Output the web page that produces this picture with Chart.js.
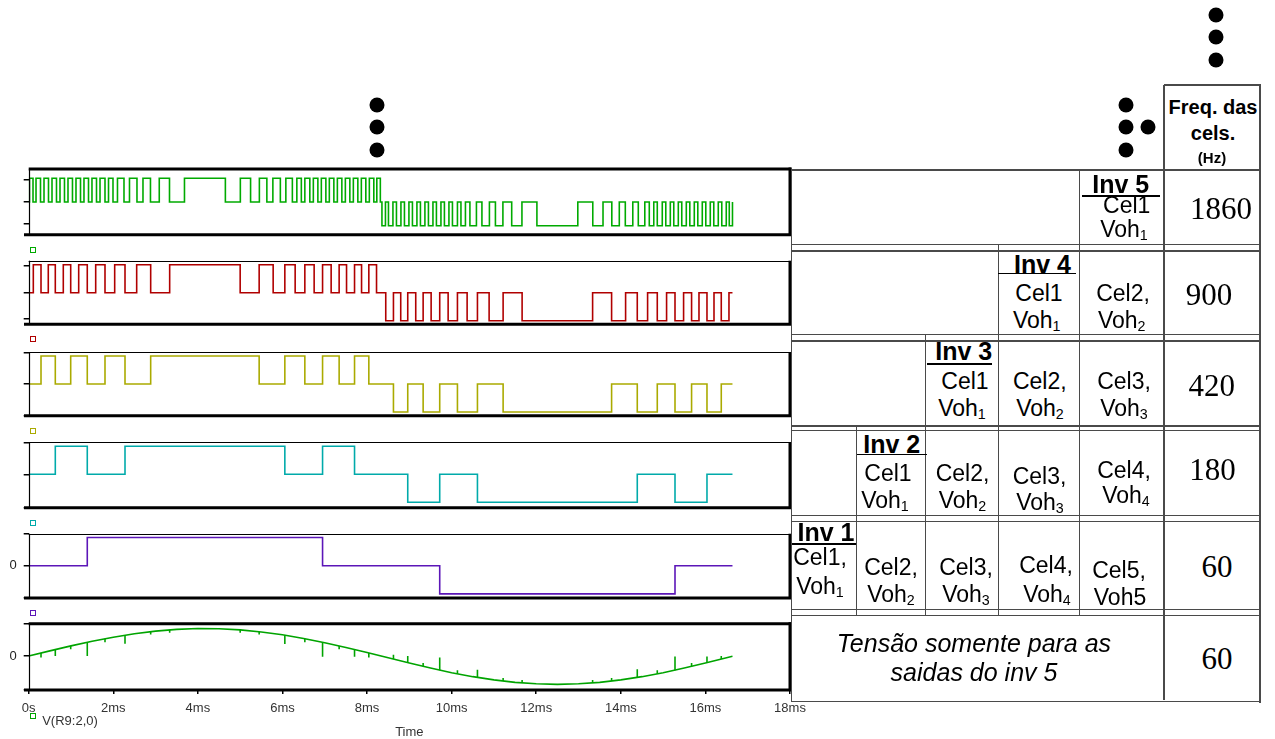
<!DOCTYPE html>
<html><head><meta charset="utf-8">
<script src="https://cdn.jsdelivr.net/npm/chart.js@4.4.1/dist/chart.umd.min.js"></script>
<style>
html,body{margin:0;padding:0;background:#fff;overflow:hidden;}
#root{position:relative;width:1275px;height:739px;font-family:"Liberation Sans",Arial,sans-serif;color:#000;}
canvas.pn{position:absolute;left:0;}
.t{position:absolute;white-space:nowrap;transform:translate(-50%,-50%);line-height:1;}
.ln{position:absolute;background:#4a4a4a;}
.ul{position:absolute;background:#000;}
.dot{position:absolute;width:15px;height:15px;border-radius:50%;background:#000;transform:translate(-50%,-50%);}
.mk{position:absolute;width:4px;height:4px;border:1.5px solid;background:#fff;}
sub{font-size:0.62em;vertical-align:-0.28em;line-height:0;}
</style></head><body><div id="root"></div>
<script>
// ---------------- DATA (time in ms) ----------------
const timeTicks  = [0,2,4,6,8,10,12,14,16,18];
const timeLabels = ['0s','2ms','4ms','6ms','8ms','10ms','12ms','14ms','16ms','18ms'];
const traceEnd = 16.64;

// Inv 5 (1860 Hz) : pulses [on, off]
const inv5Pos = [[0.019,0.102],[0.173,0.279],[0.362,0.468],[0.551,0.657],[0.740,0.846],[0.929,1.035],[1.118,1.225],[1.307,1.414],[1.496,1.603],[1.686,1.804],[1.887,1.993],[2.099,2.253],[2.383,2.560],[2.702,2.879],[3.087,3.329],[3.683,4.650],[5.004,5.246],[5.454,5.631],[5.773,5.950],[6.080,6.234],[6.340,6.446],[6.529,6.647],[6.730,6.837],[6.919,7.026],[7.108,7.215],[7.298,7.404],[7.487,7.593],[7.676,7.782],[7.865,7.971],[8.054,8.160],[8.231,8.314]];
const inv5Neg = [[8.352,8.435],[8.506,8.612],[8.695,8.801],[8.884,8.990],[9.073,9.179],[9.262,9.368],[9.451,9.558],[9.640,9.747],[9.829,9.936],[10.019,10.137],[10.220,10.326],[10.432,10.586],[10.716,10.893],[11.035,11.212],[11.420,11.662],[12.016,12.983],[13.337,13.579],[13.787,13.964],[14.106,14.283],[14.413,14.567],[14.673,14.779],[14.862,14.980],[15.063,15.170],[15.252,15.359],[15.441,15.548],[15.631,15.737],[15.820,15.926],[16.009,16.115],[16.198,16.304],[16.387,16.493],[16.564,16.640]];

// Inv 4 (900 Hz)
const inv4Pos = [[0.109,0.291],[0.463,0.629],[0.818,0.993],[1.182,1.385],[1.584,1.804],[2.033,2.277],[2.553,2.884],[3.333,5.000],[5.449,5.780],[6.056,6.300],[6.529,6.749],[6.948,7.151],[7.340,7.515],[7.704,7.870],[8.042,8.224]];
const inv4Neg = [[8.442,8.624],[8.796,8.962],[9.151,9.326],[9.515,9.718],[9.917,10.137],[10.366,10.610],[10.886,11.217],[11.666,13.333],[13.782,14.113],[14.389,14.633],[14.862,15.082],[15.281,15.484],[15.673,15.848],[16.037,16.203],[16.375,16.557]];

// Inv 3 (420 Hz)
const inv3Pos = [[0.291,0.629],[0.993,1.385],[1.804,2.277],[2.884,5.449],[6.056,6.529],[6.948,7.340],[7.704,8.042]];
const inv3Neg = [[8.624,8.962],[9.326,9.718],[10.137,10.610],[11.217,13.782],[14.389,14.862],[15.281,15.673],[16.037,16.375]];

// Inv 2 (180 Hz)
const inv2Pos = [[0.629,1.385],[2.277,6.056],[6.948,7.704]];
const inv2Neg = [[8.962,9.718],[10.610,14.389],[15.281,16.037]];

// Inv 1 (60 Hz)
const inv1Pos = [[1.385,6.948]];
const inv1Neg = [[9.718,15.281]];

// V(R9:2,0) output (normalised)
const sineT = [0,0.5,1,1.5,2,2.5,3,3.5,4,4.5,5,5.5,6,6.5,7,7.5,8,8.5,9,9.5,10,10.5,11,11.5,12,12.5,13,13.5,14,14.5,15,15.5,16,16.5,16.64];
const sineV = [0,0.187,0.368,0.536,0.685,0.809,0.905,0.969,0.998,0.992,0.951,0.876,0.771,0.637,0.482,0.309,0.125,-0.065,-0.256,-0.439,-0.606,-0.751,-0.869,-0.958,-1.011,-1.030,-1.011,-0.958,-0.869,-0.751,-0.606,-0.439,-0.256,-0.065,-0.01];
// switching spikes [t, from, to]
const sineSpikes = [[0.291,0.109,-0.05],[0.629,0.235,0.0],[0.993,0.364,0.25],[1.385,0.50,0.0],[1.804,0.628,0.5],[2.277,0.757,0.45],[2.884,0.885,0.78],[3.333,0.951,0.85],[5.000,0.951,0.85],[5.449,0.885,0.78],[6.056,0.757,0.44],[6.529,0.628,0.5],[6.948,0.50,-0.03],[7.340,0.364,0.25],[7.704,0.235,-0.03],[8.042,0.109,-0.05],
 [8.624,-0.112,0.05],[8.962,-0.242,0.0],[9.326,-0.375,-0.25],[9.718,-0.515,-0.05],[10.137,-0.647,-0.52],[10.610,-0.780,-0.50],[11.217,-0.912,-0.80],[11.666,-0.980,-0.87],[13.333,-0.980,-0.87],[13.782,-0.912,-0.80],[14.389,-0.780,-0.48],[14.862,-0.647,-0.52],[15.281,-0.515,-0.02],[15.673,-0.375,-0.25],[16.037,-0.242,-0.02],[16.375,-0.112,0.0]];

// ---------------- LAYOUT ----------------
const root = document.getElementById('root');
const FONT = '"Liberation Sans", Arial, sans-serif';
const X0 = 28.7, X1 = 790;

const panels = [
 {pos:inv5Pos, neg:inv5Neg, color:'#00aa00', top:169,   bottom:234.7, ymin:-1.38,  ymax:1.392, ticks:[-0.9,0,0.94],    zero:false, topW:3},
 {pos:inv4Pos, neg:inv4Neg, color:'#b00000', top:260.7, bottom:324.3, ymin:-1.129, ymax:1.143, ticks:[-0.93,0,0.95],   zero:false, topW:1},
 {pos:inv3Pos, neg:inv3Neg, color:'#aaaa00', top:352.3, bottom:415.7, ymin:-1.132, ymax:1.132, ticks:[-1.132,0,1.132], zero:false, topW:1},
 {pos:inv2Pos, neg:inv2Neg, color:'#00aaaa', top:442.3, bottom:507.7, ymin:-1.193, ymax:1.143, ticks:[-1.193,0,1.143], zero:false, topW:1},
 {pos:inv1Pos, neg:inv1Neg, color:'#5c16b8', top:533.7, bottom:598,   ymin:-1.145, ymax:1.135, ticks:[-1.145,0,1.135], zero:true,  topW:1},
 {sine:true,                color:'#00a400', top:623.7, bottom:690,   ymin:-1.236, ymax:1.175, ticks:[-1.236,0,1.175], zero:true,  topW:3, xAxis:true}
];

function pulseSeries(pos, neg){
  const pts = [{x:0,y:0}];
  pos.forEach(([a,b])=>{ pts.push({x:a,y:0},{x:a,y:1},{x:b,y:1},{x:b,y:0}); });
  neg.forEach(([a,b])=>{ pts.push({x:a,y:0},{x:a,y:-1},{x:b,y:-1},{x:b,y:0}); });
  pts.push({x:traceEnd,y:pts[pts.length-1].y});
  return pts;
}

const framePlugin = {
  id:'frame',
  afterDraw(chart, args, o){
    const {ctx} = chart; const {left,right,top,bottom} = chart.chartArea;
    ctx.save(); ctx.strokeStyle = '#000'; ctx.lineCap='butt';
    const ln=(x1,y1,x2,y2,w)=>{ctx.lineWidth=w;ctx.beginPath();ctx.moveTo(x1,y1);ctx.lineTo(x2,y2);ctx.stroke();};
    const lx = Math.round(left)+0.5;
    ln(lx,top,lx,bottom,1.2);
    const ty = o.topW < 2 ? Math.round(top)+0.5 : top;
    ln(left,ty,right+1.5,ty,o.topW < 2 ? 1.2 : o.topW);
    ln(24,bottom,right+1.5,bottom,3);
    ln(right,top-(o.topW<2?0:1.5),right,bottom,3);
    ctx.restore();
  }
};

panels.forEach(p=>{
  const cTop = Math.floor(p.top) - 3;
  const padTop = p.top - cTop;
  const axisH = p.xAxis ? 739 - p.bottom : 0;
  const h = p.xAxis ? 739 - cTop : Math.ceil(p.bottom + 3) - cTop;
  const padBottom = p.xAxis ? 0 : h - (p.bottom - cTop);
  const cv = document.createElement('canvas');
  cv.className='pn'; cv.width=830; cv.height=h;
  cv.style.top = cTop+'px'; cv.style.width='830px'; cv.style.height=h+'px';
  root.appendChild(cv);

  let datasets;
  if (p.sine){
    const spk = [];
    sineSpikes.forEach(([t,a,b])=>{ spk.push({x:t,y:a},{x:t,y:b},{x:t,y:null}); });
    datasets = [
      {data: sineT.map((t,i)=>({x:t,y:sineV[i]})), borderColor:p.color, borderWidth:1.6, pointRadius:0, tension:0},
      {data: spk, borderColor:p.color, borderWidth:1.6, pointRadius:0, spanGaps:false}
    ];
  } else {
    datasets = [{data: pulseSeries(p.pos,p.neg), borderColor:p.color, borderWidth:1.6, pointRadius:0, tension:0}];
  }

  new Chart(cv, {
    type:'line',
    data:{datasets},
    plugins:[framePlugin],
    options:{
      responsive:false, animation:false, events:[],
      layout:{padding:{left:0,right:830-X1,top:padTop,bottom:padBottom}},
      plugins:{legend:{display:false}, tooltip:{enabled:false}, frame:{topW:p.topW}},
      scales:{
        x:{type:'linear', min:0, max:18, display: !!p.xAxis,
           afterBuildTicks: s=>{ s.ticks = timeTicks.map(v=>({value:v})); },
           afterFit: s=>{ s.height = axisH; s.paddingLeft = 0; s.paddingRight = 0; },
           ticks:{autoSkip:false, maxRotation:0, padding:7, color:'#333', font:{family:FONT,size:13},
                  callback:(v,i)=>timeLabels[i]},
           grid:{display:true, drawOnChartArea:false, drawTicks:true, tickLength:4, color:'#000', lineWidth:1.5},
           border:{display:false},
           title:{display:true, text:'Time', color:'#333', font:{family:FONT,size:13,lineHeight:1}, padding:{top:0,bottom:0}}
        },
        y:{type:'linear', min:p.ymin, max:p.ymax, position:'left',
           afterBuildTicks: s=>{ s.ticks = p.ticks.map(v=>({value:v})); },
           afterFit: s=>{ s.width = X0; s.paddingTop = 0; s.paddingBottom = 0; },
           ticks:{autoSkip:false, padding:7, color:'#222', font:{family:FONT,size:13},
                  callback:(v)=> (p.zero && v===0) ? '0' : ''},
           grid:{display:true, drawOnChartArea:false, drawTicks:true, tickLength:5, color:'#000', lineWidth:1.5},
           border:{display:false}
        }
      }
    }
  });
});

// legend markers
[['#00aa00',246.5],['#b00000',336],['#aaaa00',427.5],['#00aaaa',519.5],['#5c16b8',609.5],['#00a400',713]].forEach(([c,y])=>{
  const d=document.createElement('div'); d.className='mk';
  d.style.left='30px'; d.style.top=y+'px'; d.style.borderColor=c; root.appendChild(d);
});

function txt(html,cx,cy,font,extra){
  const d=document.createElement('div'); d.className='t';
  d.innerHTML=html; d.style.left=cx+'px'; d.style.top=cy+'px'; d.style.font=font;
  if(extra) Object.assign(d.style,extra);
  root.appendChild(d);
}
// trace name
txt('V(R9:2,0)',70,720,'13px '+FONT,{color:'#333'});

// dots
[[377,105],[377,127],[377,150],[1125.7,105],[1125.7,127],[1147.7,127],[1125.7,150],[1215.7,15],[1215.7,37],[1215.7,60]].forEach(([x,y])=>{
  const d=document.createElement('div'); d.className='dot'; d.style.left=x+'px'; d.style.top=y+'px'; root.appendChild(d);
});

// table lines
const TL=791.7, TR=1260;
const hLines=[[1164,TR,85],[TL,TR,170],[TL,TR,244.3],[TL,TR,251],[TL,TR,334.3],[TL,TR,341],[TL,TR,426],[TL,TR,430.7],[TL,TR,515.7],[TL,TR,521.7],[TL,TR,609.3],[TL,TR,615.7],[TL,TR,701.7]];
const vLines=[[TL,170,701.7],[TR,85,702.5],[1164,85,700],[1079.3,170,615.7],[998.3,244.3,615.7],[925.7,334.3,615.7],[856.7,426,615.7]];
hLines.forEach(([x1,x2,y])=>{const d=document.createElement('div');d.className='ln';Object.assign(d.style,{left:x1+'px',top:(y-0.75)+'px',width:(x2-x1+0.75)+'px',height:'1.5px'});root.appendChild(d);});
vLines.forEach(([x,y1,y2])=>{const d=document.createElement('div');d.className='ln';Object.assign(d.style,{left:(x-0.75)+'px',top:y1+'px',width:'1.5px',height:(y2-y1)+'px'});root.appendChild(d);});
// inverter header underlines
[[1081.7,1160,196],[998.3,1076,273.3],[926.7,992,364],[856.7,926.7,454.3],[791.7,856,544]].forEach(([x1,x2,y])=>{
  const d=document.createElement('div');d.className='ul';Object.assign(d.style,{left:x1+'px',top:(y-0.75)+'px',width:(x2-x1)+'px',height:'1.5px'});root.appendChild(d);
});

const B='bold 20px '+FONT, S='23px '+FONT, IV='bold 25px '+FONT, N='31px "Liberation Serif", "Times New Roman", serif';
const tableText = [
 ['Freq. das',1213,107,B],['cels.',1213,133,B],['(Hz)',1212,157,'bold 15px '+FONT],
 ['Inv 5',1120.7,184,IV],['Cel1',1126.7,205,S],['Voh<sub>1</sub>',1124,229,S],['1860',1221,209,N],
 ['Inv 4',1042.5,264,IV],['Cel1',1039,293.3,S],['Voh<sub>1</sub>',1036.7,320,S],['Cel2,',1123,293,S],['Voh<sub>2</sub>',1121.7,320,S],['900',1209,295,N],
 ['Inv 3',963.7,351,IV],['Cel1',965,381,S],['Voh<sub>1</sub>',962,408,S],['Cel2,',1039.8,381,S],['Voh<sub>2</sub>',1040,408,S],['Cel3,',1124,381,S],['Voh<sub>3</sub>',1124,408,S],['420',1211.7,386,N],
 ['Inv 2',891.7,444,IV],['Cel1',888,473,S],['Voh<sub>1</sub>',885,500,S],['Cel2,',962.5,473,S],['Voh<sub>2</sub>',962.5,500,S],['Cel3,',1039.5,476,S],['Voh<sub>3</sub>',1040,502,S],['Cel4,',1124,470,S],['Voh<sub>4</sub>',1126,495,S],['180',1212.5,470,N],
 ['Inv 1',826,532,IV],['Cel1,',820,557,S],['Voh<sub>1</sub>',820,586,S],['Cel2,',891,567,S],['Voh<sub>2</sub>',891,594,S],['Cel3,',966,567,S],['Voh<sub>3</sub>',966,594,S],['Cel4,',1046,565,S],['Voh<sub>4</sub>',1047,594,S],['Cel5,',1119,570,S],['Voh5',1120,597,S],['60',1217,567,N],
 ['Tensão somente para as',974,643,'italic 25px '+FONT],['saidas do inv 5',974,672,'italic 25px '+FONT],['60',1217,659,N]
];
tableText.forEach(([h,x,y,f])=>txt(h,x,y,f));
</script>
</body></html>
